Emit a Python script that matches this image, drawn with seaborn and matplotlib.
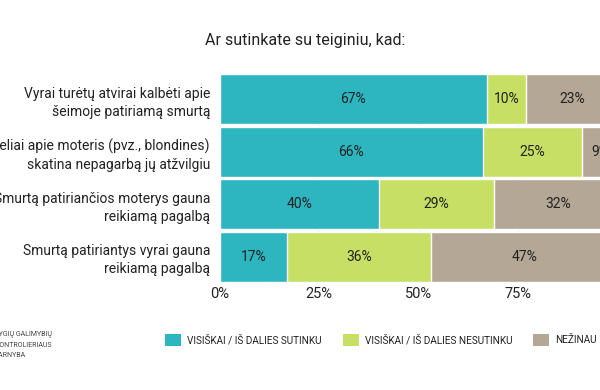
import numpy as np
import pandas as pd
import matplotlib
matplotlib.use("Agg")
import matplotlib.pyplot as plt
import seaborn as sns
from matplotlib.patches import Patch

# duomenys
klausimai = [
    "Vyrai turėtų atvirai kalbėti apie\nšeimoje patiriamą smurtą",
    "Juokeliai apie moteris (pvz., blondines)\nskatina nepagarbą jų atžvilgiu",
    "Smurtą patiriančios moterys gauna\nreikiamą pagalbą",
    "Smurtą patiriantys vyrai gauna\nreikiamą pagalbą",
]
sutinku = [67, 66, 40, 17]
nesutinku = [10, 25, 29, 36]
nezinau = [23, 9, 32, 47]
kategorijos = ["VISIŠKAI / IŠ DALIES SUTINKU", "VISIŠKAI / IŠ DALIES NESUTINKU", "NEŽINAU"]
ticks = [0, 25, 50, 75]
tick_labels = ["0%", "25%", "50%", "75%"]

spalvos = ["#2db5c0", "#c8df65", "#b5a796"]

sns.set_style("white")
plt.rcParams["font.family"] = ["Roboto", "DejaVu Sans"]

df = pd.DataFrame({"klausimas": klausimai, "a": sutinku, "d": nesutinku, "u": nezinau})
df["c1"] = df["a"]
df["c2"] = df["a"] + df["d"]
df["c3"] = df["a"] + df["d"] + df["u"]

fig = plt.figure(figsize=(6, 3.9), dpi=100)
ax = fig.add_axes([0.366, 0.274, 0.664, 0.539])

# sukaupti stulpeliai, nuo didžiausio
for col, sp in zip(["c3", "c2", "c1"], spalvos[::-1]):
    sns.barplot(data=df, x=col, y="klausimas", color=sp, width=0.95,
                orient="h", ax=ax, saturation=1, zorder=2)

for i, row in df.iterrows():
    starts = [0, row["c1"], row["c2"]]
    for s, v in zip(starts, [row["a"], row["d"], row["u"]]):
        ax.text(s + v / 2, i, f"{v}%", ha="center", va="center",
                fontsize=10, color="#222222", zorder=3)

ax.set_xlim(0, 100)
ax.set_ylim(3.5, -0.5)
ax.set_xticks(ticks)
ax.set_xticklabels(tick_labels, fontsize=10.5, color="#222222")
ax.set_xlabel("")
ax.set_ylabel("")
ax.tick_params(axis="y", labelsize=10, length=0, pad=7, colors="#222222")
ax.tick_params(axis="x", length=0, pad=3)
for lbl in ax.get_yticklabels():
    lbl.set_linespacing(1.35)
ax.grid(axis="x", color="#ececec", linewidth=0.8, zorder=0)
ax.set_axisbelow(True)
sns.despine(ax=ax, left=True, bottom=True)

fig.text(0.508, 0.897, "Ar sutinkate su teiginiu, kad:", ha="center", va="center",
         fontsize=11.5, color="#222222")

handles = [Patch(facecolor=c, edgecolor="none") for c in spalvos]
fig.legend(handles, kategorijos, loc="center", bbox_to_anchor=(0.635, 0.128), ncol=3,
           frameon=False, prop={"size": 7.2}, handlelength=1.6, handleheight=1.5,
           columnspacing=2.1, handletextpad=0.6, labelcolor="#222222",
           borderpad=0, borderaxespad=0)

fig.text(-0.008, 0.115, "LYGIŲ GALIMYBIŲ\nKONTROLIERIAUS\nTARNYBA", ha="left", va="center",
         fontsize=5, color="#444444", linespacing=1.7)

fig.savefig("out.png", dpi=100)
